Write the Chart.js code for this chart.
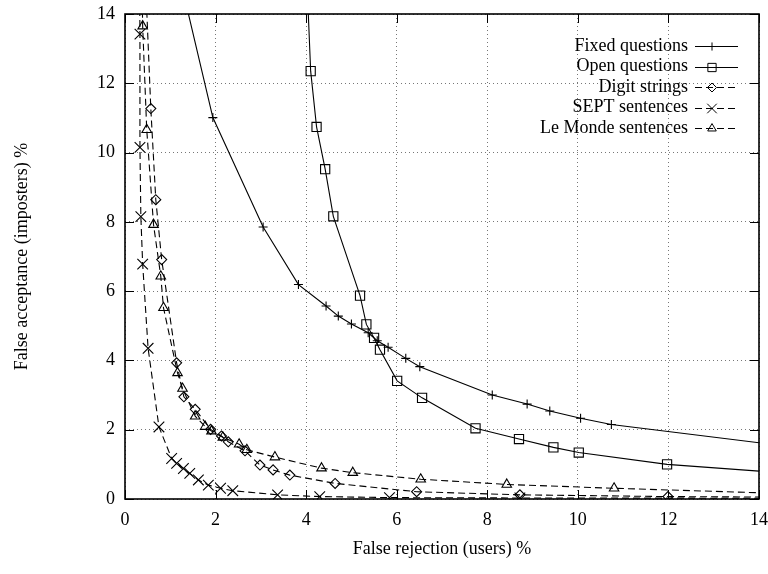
<!DOCTYPE html>
<html><head><meta charset="utf-8">
<script src="https://cdn.jsdelivr.net/npm/chart.js@4.4.0/dist/chart.umd.min.js"></script>
<style>html,body{margin:0;padding:0;background:#fff}</style>
</head><body>
<canvas id="c" width="768" height="574"></canvas>
<script>
// ---- data; off-chart points only continue lines beyond the frame ----
const seriesNames = ['Fixed questions', 'Open questions', 'Digit strings', 'SEPT sentences', 'Le Monde sentences'];

const fixedX = [1.04, 1.94, 3.05, 3.83, 4.44, 4.71, 5.00, 5.37, 5.57, 5.81, 6.20, 6.51, 8.11, 8.88, 9.38, 10.06, 10.74, 15.0];
const fixedY = [16.0, 11.01, 7.85, 6.19, 5.57, 5.28, 5.05, 4.80, 4.57, 4.38, 4.06, 3.82, 3.00, 2.74, 2.54, 2.33, 2.15, 1.46];

const openX = [4.00, 4.10, 4.23, 4.42, 4.60, 5.19, 5.33, 5.50, 5.63, 6.01, 6.56, 7.74, 8.70, 9.46, 10.02, 11.97, 15.0];
const openY = [15.5, 12.35, 10.74, 9.52, 8.16, 5.87, 5.04, 4.65, 4.31, 3.41, 2.92, 2.04, 1.73, 1.49, 1.34, 1.00, 0.71];

const digitX = [0.42, 0.57, 0.68, 0.81, 1.14, 1.30, 1.55, 1.89, 2.13, 2.28, 2.65, 2.98, 3.27, 3.64, 4.64, 6.44, 8.72, 11.99, 15.0];
const digitY = [16.0, 11.27, 8.64, 6.91, 3.93, 2.95, 2.59, 2.01, 1.82, 1.65, 1.39, 0.98, 0.84, 0.69, 0.45, 0.21, 0.12, 0.07, 0.05];

const septX = [0.31, 0.33, 0.33, 0.35, 0.39, 0.51, 0.75, 1.03, 1.14, 1.29, 1.43, 1.62, 1.84, 2.11, 2.38, 3.37, 4.30, 5.84, 8.72, 15.0];
const septY = [17.0, 13.42, 10.15, 8.15, 6.78, 4.35, 2.08, 1.17, 1.03, 0.88, 0.74, 0.55, 0.40, 0.31, 0.24, 0.12, 0.07, 0.04, 0.03, 0.02];

const mondeX = [0.36, 0.39, 0.48, 0.63, 0.79, 0.85, 1.16, 1.27, 1.55, 1.77, 1.91, 2.16, 2.52, 2.69, 3.31, 4.34, 5.03, 6.53, 8.43, 10.80, 15.0];
const mondeY = [16.0, 13.65, 10.66, 7.92, 6.43, 5.52, 3.64, 3.19, 2.39, 2.09, 1.96, 1.78, 1.58, 1.42, 1.21, 0.89, 0.76, 0.57, 0.42, 0.31, 0.14];

const xTickValues = [0, 2, 4, 6, 8, 10, 12, 14];
const yTickValues = [0, 2, 4, 6, 8, 10, 12, 14];
const xTitle = 'False rejection (users) %';
const yTitle = 'False acceptance (imposters) %';
// ----------------------------------------------------------------------------

const FONT = "'Liberation Serif', 'Times New Roman', serif";
const pts = (xs, ys) => xs.map((x, i) => ({x: x, y: ys[i]}));

const styles = [
  {pointStyle: 'cross',    radius: 4.5, dash: []},
  {pointStyle: 'rect',     radius: 6.5, dash: []},
  {pointStyle: 'rectRot',  radius: 5,   dash: [7, 4]},
  {pointStyle: 'crossRot', radius: 7.5, dash: [7, 4]},
  {pointStyle: 'triangle', radius: 5.5, dash: [7, 4]}
];
const allData = [pts(fixedX, fixedY), pts(openX, openY), pts(digitX, digitY), pts(septX, septY), pts(mondeX, mondeY)];

const datasets = allData.map((d, i) => ({
  label: seriesNames[i],
  data: d,
  showLine: true,
  tension: 0,
  borderColor: '#000',
  borderWidth: 1.1,
  borderDash: styles[i].dash,
  pointStyle: styles[i].pointStyle,
  pointRadius: styles[i].radius,
  pointHoverRadius: styles[i].radius,
  pointBorderColor: '#000',
  pointBorderWidth: 1.1,
  pointBackgroundColor: 'rgba(0,0,0,0)'
}));

function drawMark(ctx, style, r, x, y) {
  ctx.save();
  ctx.setLineDash([]);
  ctx.strokeStyle = '#000';
  ctx.lineWidth = 1;
  if (Chart.helpers && Chart.helpers.drawPoint) {
    ctx.fillStyle = 'rgba(0,0,0,0)';
    Chart.helpers.drawPoint(ctx, {pointStyle: style, radius: r, rotation: 0, borderWidth: 1}, x, y);
  }
  ctx.restore();
}

const framePlugin = {
  id: 'frame',
  afterDatasetsDraw(chart) {
    const {ctx, chartArea: a, scales} = chart;
    const xs = scales.x, ys = scales.y;
    ctx.save();
    ctx.strokeStyle = '#000';
    ctx.lineWidth = 1;
    ctx.setLineDash([]);
    ctx.beginPath();
    xTickValues.forEach(v => {
      const px = Math.round(xs.getPixelForValue(v)) + 0.5;
      ctx.moveTo(px, a.bottom); ctx.lineTo(px, a.bottom - 9);
      ctx.moveTo(px, a.top); ctx.lineTo(px, a.top + 9);
    });
    yTickValues.forEach(v => {
      const py = Math.round(ys.getPixelForValue(v)) + 0.5;
      ctx.moveTo(a.left, py); ctx.lineTo(a.left + 9, py);
      ctx.moveTo(a.right, py); ctx.lineTo(a.right - 9, py);
    });
    ctx.stroke();
    ctx.lineWidth = 1.6;
    ctx.strokeRect(a.left, a.top, a.right - a.left, a.bottom - a.top);

    // legend (top-right, text right-aligned, sample to the right)
    ctx.font = '18px ' + FONT;
    ctx.fillStyle = '#000';
    ctx.textAlign = 'right';
    ctx.textBaseline = 'middle';
    const textRight = a.right - 71, l0 = a.right - 64, l1 = a.right - 21, mx = a.right - 47;
    seriesNames.forEach((name, i) => {
      const y = a.top + 32 + i * 20.5;
      ctx.fillText(name, textRight, y);
      ctx.beginPath();
      ctx.setLineDash(styles[i].dash);
      ctx.lineWidth = 1;
      ctx.moveTo(l0, Math.round(y) + 0.5);
      ctx.lineTo(l1, Math.round(y) + 0.5);
      ctx.stroke();
      ctx.setLineDash([]);
      drawMark(ctx, styles[i].pointStyle, styles[i].radius * 0.9, mx, Math.round(y) + 0.5);
    });
    ctx.restore();
  }
};

new Chart(document.getElementById('c'), {
  type: 'scatter',
  data: {datasets: datasets},
  options: {
    responsive: false,
    devicePixelRatio: 1,
    animation: false,
    events: [],
    layout: {padding: {top: 14, right: 9, left: 0, bottom: 0}},
    plugins: {legend: {display: false}, tooltip: {enabled: false}},
    scales: {
      x: {
        type: 'linear', min: 0, max: 14,
        afterBuildTicks: s => { s.ticks = xTickValues.map(v => ({value: v})); },
        afterFit: s => { s.height = 75; s.paddingLeft = 0; s.paddingRight = 0; },
        grid: {color: '#777', lineWidth: 1, drawTicks: false},
        border: {display: false, dash: [1, 3]},
        ticks: {color: '#000', padding: 10, font: {family: FONT, size: 18}, maxRotation: 0},
        title: {display: true, text: xTitle, color: '#000', font: {family: FONT, size: 18}, padding: {top: 4, bottom: 14}}
      },
      y: {
        type: 'linear', min: 0, max: 14,
        afterBuildTicks: s => { s.ticks = yTickValues.map(v => ({value: v})); },
        afterFit: s => { s.width = 125; s.paddingTop = 0; s.paddingBottom = 0; },
        grid: {color: '#777', lineWidth: 1, drawTicks: false},
        border: {display: false, dash: [1, 3]},
        ticks: {color: '#000', padding: 10, font: {family: FONT, size: 18}},
        title: {display: true, text: yTitle, color: '#000', font: {family: FONT, size: 18}, padding: {top: 11, bottom: 4}}
      }
    }
  },
  plugins: [framePlugin]
});
</script>
</body></html>
